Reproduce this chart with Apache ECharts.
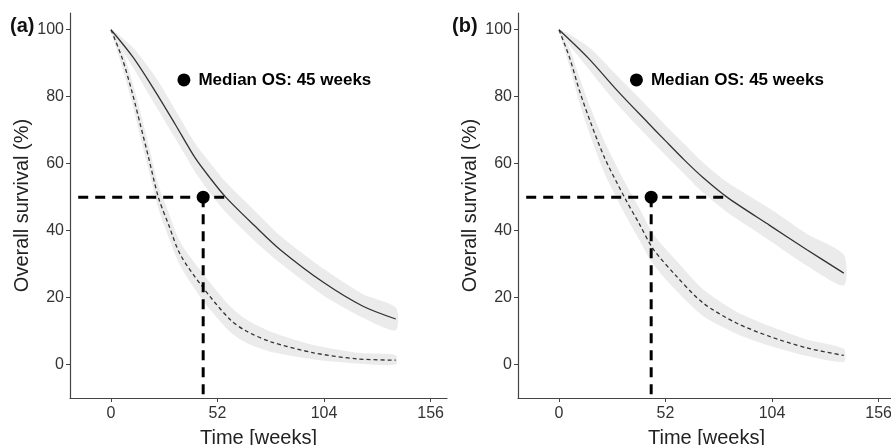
<!DOCTYPE html>
<html>
<head>
<meta charset="utf-8">
<script src="https://cdn.jsdelivr.net/npm/echarts@6/dist/echarts.min.js"></script>
<style>
  html, body { margin: 0; padding: 0; background: #fff; }
  #main { width: 891px; height: 445px; }
</style>
</head>
<body>
<div id="main"></div>
<script>
// panel (a): survival curves (weeks, % surviving)
var weeksSolidA = [0, 11, 21.6, 31.4, 41.1, 48, 56, 70, 82.6, 104, 123, 139];
var survSolidA  = [100, 91.6, 81.6, 71.7, 61.7, 56, 50, 41.5, 34.3, 24.4, 17.4, 13.6];
var loSolidA    = [100, 88.5, 77.5, 67.5, 57.5, 51.5, 45.5, 37, 30.3, 20.5, 14, 10.2];
var hiSolidA    = [100, 94.5, 86, 76, 66, 60.5, 54.5, 46, 38.5, 28.5, 21, 17];

var weeksDashA = [0, 5.4, 10.2, 14.3, 18.4, 23.2, 28.1, 33.8, 44.4, 58, 66, 78, 99, 120, 139];
var survDashA  = [100, 91.6, 81.6, 71.7, 61.7, 49.8, 41.8, 32.9, 23.4, 13.5, 10, 6.8, 3.5, 1.7, 1.3];
var loDashA    = [100, 89, 78.5, 68, 58, 46.5, 38, 29.5, 19.5, 9.8, 6.5, 3.8, 1.5, 0.3, 0];
var hiDashA    = [100, 94, 85, 75.5, 65.5, 53.5, 45.5, 36.5, 27.5, 17.5, 13.5, 9.8, 5.8, 3.5, 2.8];

// panel (b)
var weeksSolidB = [0, 14.2, 28.8, 43.3, 52, 61, 70, 82, 103, 121, 139];
var survSolidB  = [100, 91.6, 81.6, 72.3, 66.8, 61.2, 56, 50, 41.5, 34.3, 27.3];
var loSolidB    = [100, 88.5, 77.5, 68, 62.5, 57, 51.5, 45.5, 37, 29.5, 23.6];
var hiSolidB    = [100, 95, 86, 77, 71.5, 66, 60.5, 54.5, 46.5, 39, 32.8];

var weeksDashB = [0, 5.2, 10.1, 15.8, 22.3, 32.1, 39.4, 46, 57.3, 70.3, 86.6, 102.8, 120.7, 139];
var survDashB  = [100, 91.6, 81.6, 71.7, 61.7, 49.8, 41.8, 34.5, 26.4, 18.4, 12.4, 8.4, 5, 2.7];
var loDashB    = [100, 89, 78, 67.5, 57, 45, 37, 30, 22, 14.5, 9.2, 5.6, 2.6, 0.8];
var hiDashB    = [100, 94.5, 85.5, 76, 66.5, 54.5, 46.5, 39, 31, 22.5, 15.8, 11.5, 7.5, 4.7];

// median marker and reference lines
var medianWeek = 45;
var medianSurv = 50;
var refLineStart = -16;
var refLineEndA = 57.7;
var refLineEndB = 82;
var legendDotA = [35.6, 85];
var legendDotB = [37.8, 85];
var medianText = 'Median OS: 45 weeks';

var xTicks = [0, 52, 104, 156];
var yTicks = [0, 20, 40, 60, 80, 100];
var panelLabels = ['(a)', '(b)'];

function pairs(xs, ys) {
  return xs.map(function (x, i) { return [x, ys[i]]; });
}

var font = 'Liberation Sans, Arial, sans-serif';

// confidence ribbon: polygon along the lower edge and back along the upper edge
function band(idx, xs, lo, hi) {
  return {
    type: 'custom', xAxisIndex: idx, yAxisIndex: idx, silent: true, z: 1,
    data: [[xs[0], lo[0]]],
    renderItem: function (params, api) {
      var pts = [];
      for (var i = 0; i < xs.length; i++) pts.push(api.coord([xs[i], lo[i]]));
      for (var j = xs.length - 1; j > 0; j--) pts.push(api.coord([xs[j], hi[j]]));
      return {
        type: 'polygon',
        shape: { points: pts, smooth: 0.25 },
        style: { fill: '#ebebeb' }
      };
    }
  };
}

function curve(idx, xs, ys, dashed) {
  return {
    type: 'line', xAxisIndex: idx, yAxisIndex: idx, z: 2,
    data: pairs(xs, ys), smooth: 0.3, symbol: 'none', silent: true,
    lineStyle: { color: '#333', width: 1.3, type: dashed ? [4, 3] : 'solid' }
  };
}

function refLines(idx, endWeek, dotPos) {
  var dash = { color: '#000', width: 3, type: [10, 7] };
  return [
    {
      type: 'line', xAxisIndex: idx, yAxisIndex: idx, symbol: 'none', silent: true, z: 3,
      data: [[refLineStart, medianSurv], [endWeek, medianSurv]],
      lineStyle: dash
    },
    {
      type: 'line', xAxisIndex: idx, yAxisIndex: idx, symbol: 'none', silent: true, z: 3,
      data: [[medianWeek, medianSurv], [medianWeek, -10]],
      lineStyle: dash
    },
    {
      type: 'scatter', xAxisIndex: idx, yAxisIndex: idx, symbolSize: 13, silent: true, z: 4,
      itemStyle: { color: '#000', opacity: 1 },
      data: [
        [medianWeek, medianSurv],
        {
          value: dotPos,
          label: {
            show: true, position: 'right', distance: 8,
            formatter: medianText, color: '#000',
            fontFamily: font, fontWeight: 'bold', fontSize: 17
          }
        }
      ]
    }
  ];
}

function xAxis(idx) {
  return {
    type: 'value', gridIndex: idx, min: -20, max: 164,
    name: 'Time [weeks]', nameLocation: 'middle', nameGap: 30,
    nameTextStyle: { fontFamily: font, fontSize: 20, color: '#222' },
    splitLine: { show: false },
    axisLine: { onZero: false, lineStyle: { color: '#444', width: 1.2 } },
    axisTick: { customValues: xTicks, length: 4, lineStyle: { color: '#444' } },
    axisLabel: { customValues: xTicks, fontFamily: font, fontSize: 16, color: '#333', margin: 8 }
  };
}

function yAxis(idx) {
  return {
    type: 'value', gridIndex: idx, min: -10, max: 105,
    name: 'Overall survival (%)', nameLocation: 'middle', nameGap: 38,
    nameTextStyle: { fontFamily: font, fontSize: 20, color: '#222' },
    splitLine: { show: false },
    axisLine: { show: true, onZero: false, lineStyle: { color: '#444', width: 1.2 } },
    axisTick: { show: true, customValues: yTicks, length: 4, lineStyle: { color: '#444' } },
    axisLabel: { customValues: yTicks, fontFamily: font, fontSize: 16, color: '#333', margin: 6 }
  };
}

var series = [
  band(0, weeksSolidA, loSolidA, hiSolidA),
  band(0, weeksDashA, loDashA, hiDashA),
  band(1, weeksSolidB, loSolidB, hiSolidB),
  band(1, weeksDashB, loDashB, hiDashB),
  curve(0, weeksSolidA, survSolidA, false),
  curve(0, weeksDashA, survDashA, true),
  curve(1, weeksSolidB, survSolidB, false),
  curve(1, weeksDashB, survDashB, true)
].concat(refLines(0, refLineEndA, legendDotA))
 .concat(refLines(1, refLineEndB, legendDotB));

var myChart = echarts.init(document.getElementById('main'));
var option = {
  animation: false,
  backgroundColor: '#fff',
  grid: [
    { left: 70, top: 13, width: 377, height: 385, outerBoundsMode: 'none' },
    { left: 518, top: 13, width: 377, height: 385, outerBoundsMode: 'none' }
  ],
  xAxis: [xAxis(0), xAxis(1)],
  yAxis: [yAxis(0), yAxis(1)],
  graphic: [
    { type: 'text', left: 10, top: 16, style: { text: panelLabels[0], font: 'bold 20px ' + font, fill: '#111' } },
    { type: 'text', left: 452, top: 16, style: { text: panelLabels[1], font: 'bold 20px ' + font, fill: '#111' } }
  ],
  series: series
};
myChart.setOption(option);
</script>
</body>
</html>
